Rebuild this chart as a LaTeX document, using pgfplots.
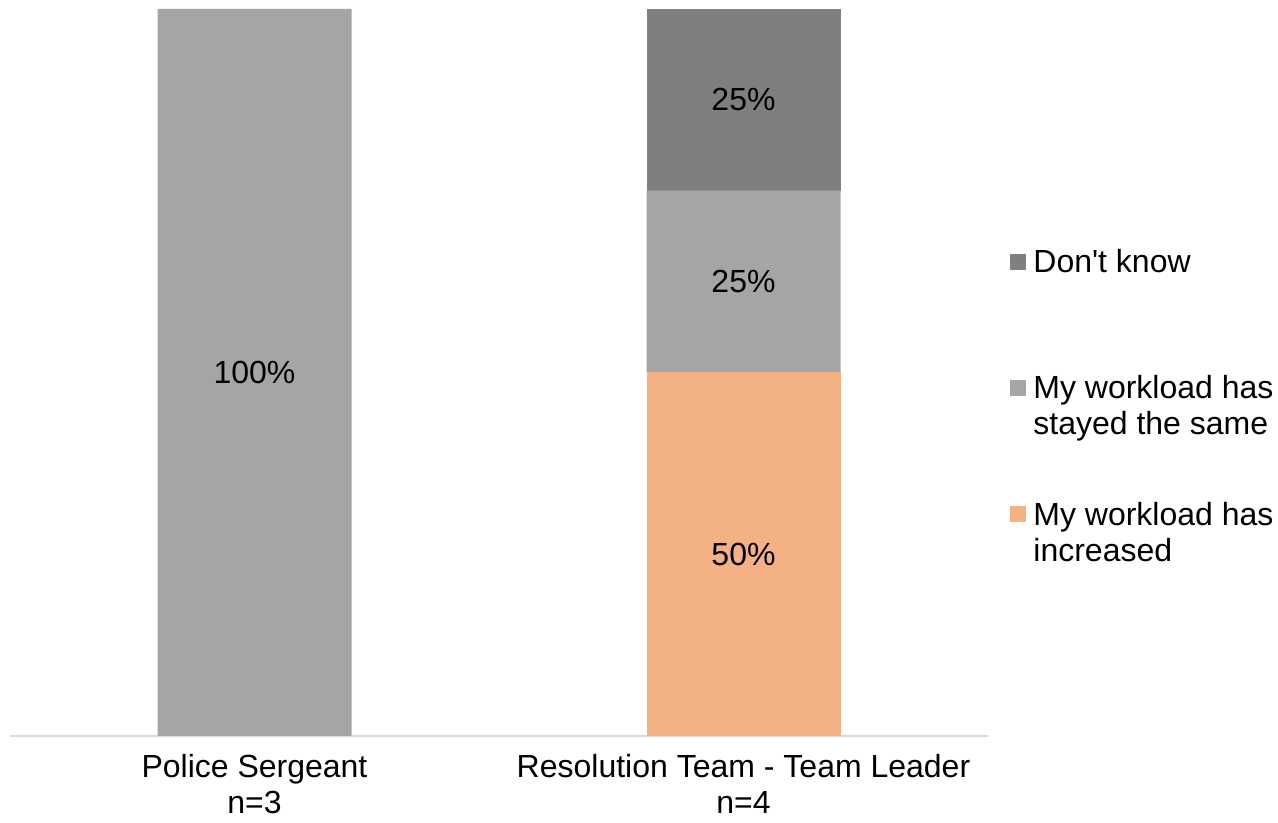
\documentclass[border=0pt]{standalone}
\usepackage{fontspec}
\setmainfont{Liberation Sans}[Ligatures=TeXOff]
\usepackage{pgfplots}
\pgfplotsset{compat=1.18}
\definecolor{cOrange}{HTML}{F4B183}
\definecolor{cLight}{HTML}{A5A5A5}
\definecolor{cDark}{HTML}{7F7F7F}
\definecolor{cAxis}{HTML}{D9D9D9}
\begin{document}
\begin{tikzpicture}
\useasboundingbox (0,0) rectangle (639pt,411.5pt);
\begin{axis}[
  at={(5pt,43.5pt)}, anchor=south west,
  scale only axis, width=489pt, height=363.5pt,
  ybar stacked, bar width=97pt,
  xmin=-0.5, xmax=1.5, ymin=0, ymax=100,
  xtick={0,1},
  xticklabels={{Police Sergeant\\n=3},{Resolution Team - Team Leader\\n=4}},
  xticklabel style={align=center, font=\fontsize{16}{18}\selectfont, yshift=-8pt, inner sep=1pt},
  major tick length=0pt,
  ytick=\empty,
  axis y line=none,
  axis x line*=bottom,
  x axis line style={-, draw=cAxis, line width=1pt},
  point meta=explicit symbolic,
  nodes near coords,
  every node near coord/.append style={anchor=center, font=\fontsize{16}{18}\selectfont, text=black},
  legend cell align=left,
  reverse legend,
  legend image code/.code={\fill[#1] (0pt,1.5pt) rectangle (8pt,9.5pt);},
  legend style={at={(1.0225,0.678)}, anchor=north west, draw=none, fill=none,
    inner sep=0pt, row sep=45pt, column sep=1.5pt,
    font=\fontsize{16}{18}\selectfont,
    cells={anchor=base west, inner sep=0pt}},
]
\addplot[fill=cOrange, draw=none] coordinates {(0,0) [] (1,50) [50\%]};
\addlegendentry{\begin{tabular}[t]{@{}l@{}}My workload has\\increased\end{tabular}}
\addplot[fill=cLight, draw=none] coordinates {(0,100) [100\%] (1,25) [25\%]};
\addlegendentry{\begin{tabular}[t]{@{}l@{}}My workload has\\stayed the same\end{tabular}}
\addplot[fill=cDark, draw=none] coordinates {(0,0) [] (1,25) [25\%]};
\addlegendentry{\begin{tabular}[t]{@{}l@{}}Don't know\\ \end{tabular}}
\end{axis}
\end{tikzpicture}
\end{document}
